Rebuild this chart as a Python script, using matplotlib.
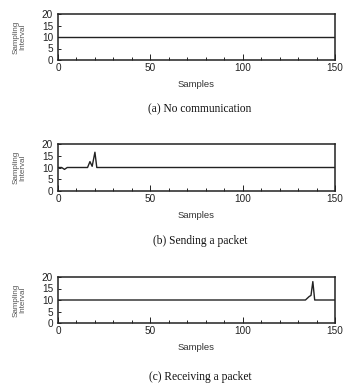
import matplotlib
matplotlib.use("Agg")
import matplotlib.pyplot as plt
from matplotlib.ticker import MultipleLocator

# Data (samples, sampling interval)
a_x = [0, 150]
a_y = [10, 10]

b_x = [0, 2, 3.5, 5, 16, 17.3, 18.5, 20, 21, 150]
b_y = [10, 10, 9.2, 10, 10, 12.5, 10.5, 16.5, 10, 10]

c_x = [0, 134, 136, 137, 138, 139, 150]
c_y = [10, 10, 11.5, 12, 18, 10, 10]

x_ticks = [0, 50, 100, 150]
y_ticks = [0, 5, 10, 15, 20]
captions = ["(a) No communication", "(b) Sending a packet", "(c) Receiving a packet"]

W, H = 345, 387
fig = plt.figure(figsize=(W / 100, H / 100), dpi=100)

# axes boxes in pixels: (top, bottom)
boxes = [(14, 60), (144, 191), (277, 323)]
left_px, right_px = 58, 335
caption_y = [109, 241, 377]
series = [(a_x, a_y), (b_x, b_y), (c_x, c_y)]

sans = ["Liberation Sans", "DejaVu Sans"]
serif = ["Liberation Serif", "DejaVu Serif"]

for (top, bot), (xs, ys), cap, cy in zip(boxes, series, captions, caption_y):
    ax = fig.add_axes([left_px / W, 1 - bot / H, (right_px - left_px) / W, (bot - top) / H])
    ax.plot(xs, ys, color="#222222", lw=1.0)
    ax.set_xlim(0, 150)
    ax.set_ylim(0, 20)
    ax.set_xticks(x_ticks)
    ax.set_yticks(y_ticks)
    ax.xaxis.set_minor_locator(MultipleLocator(10))
    ax.tick_params(axis="both", which="both", direction="in", labelsize=7.2,
                   top=False, right=False, width=0.7, colors="#222222")
    ax.tick_params(axis="x", which="major", length=4, pad=2.5)
    ax.tick_params(axis="x", which="minor", length=2)
    ax.tick_params(axis="y", which="major", length=2, pad=3.5)
    for lab in ax.get_xticklabels() + ax.get_yticklabels():
        lab.set_family(sans)
    for s in ax.spines.values():
        s.set_linewidth(1.1)
        s.set_color("#222222")
    ax.set_xlabel("Samples", fontsize=6.8, family=sans, labelpad=5, color="#333333")
    ax.set_ylabel("Sampling\nInterval", fontsize=5.8, family=sans, labelpad=11,
                  linespacing=0.9, color="#555555")
    fig.text(0.58, 1 - cy / H, cap, ha="center", va="center", fontsize=8.3,
             family=serif, color="#111111")

fig.savefig("out.png", dpi=100)
